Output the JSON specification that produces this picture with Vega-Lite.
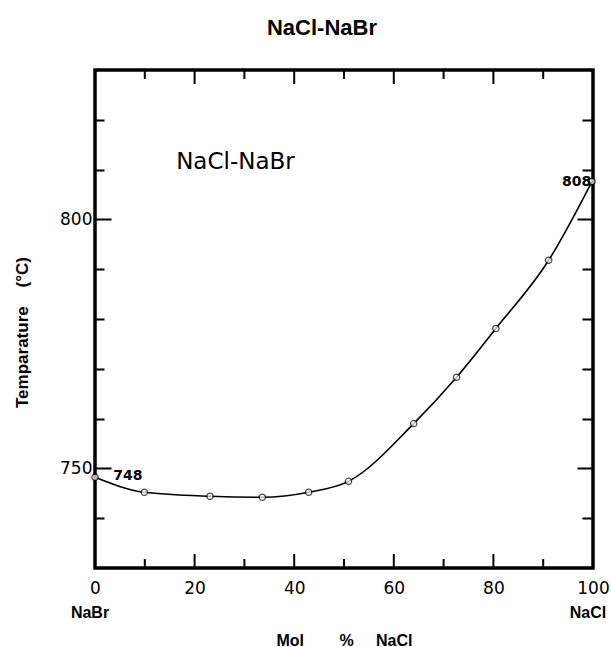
{
  "$schema": "https://vega.github.io/schema/vega-lite/v6.json",
  "width": 498,
  "height": 498,
  "autosize": {"type": "none"},
  "padding": {"left": 95, "top": 70, "right": 18, "bottom": 79},
  "background": "white",
  "title": {"text": "NaCl-NaBr", "font": "Liberation Sans", "fontSize": 22, "fontWeight": "bold", "anchor": "middle", "frame": "group", "dx": -22, "offset": 12, "baseline": "alphabetic", "color": "black"},
  "config": {
    "view": {"stroke": "black", "strokeWidth": 3.5},
    "axis": {"grid": false, "domain": false, "tickColor": "black", "tickWidth": 2, "labelColor": "black", "titleColor": "black"}
  },
  "datasets": {
    "pts": [
      {"x": 0, "y": 748.2},
      {"x": 9.9, "y": 745.2},
      {"x": 23.1, "y": 744.4},
      {"x": 33.6, "y": 744.2},
      {"x": 42.9, "y": 745.2},
      {"x": 50.9, "y": 747.4},
      {"x": 64.0, "y": 759.0},
      {"x": 72.6, "y": 768.3},
      {"x": 80.5, "y": 778.1},
      {"x": 91.1, "y": 791.8},
      {"x": 99.8, "y": 807.6}
    ],
    "ann": [
      {"x": 6.6, "y": 748.4, "label": "748"},
      {"x": 96.7, "y": 807.5, "label": "808"}
    ],
    "inner": [
      {"x": 28.2, "y": 810.2, "label": "NaCl-NaBr"}
    ],
    "ends": [
      {"x": -1, "y": 720, "label": "NaBr"},
      {"x": 99, "y": 720, "label": "NaCl"}
    ],
    "xmajor": [{"x": 20}, {"x": 40}, {"x": 60}, {"x": 80}],
    "xminor": [{"x": 10}, {"x": 30}, {"x": 50}, {"x": 70}, {"x": 90}]
  },
  "resolve": {"axis": {"x": "independent", "y": "independent"}},
  "layer": [
    {
      "data": {"name": "pts"},
      "mark": {"type": "line", "interpolate": "monotone", "color": "black", "strokeWidth": 1.6},
      "encoding": {
        "x": {"field": "x", "type": "quantitative", "scale": {"domain": [0, 100], "nice": false, "zero": false},
          "axis": {"orient": "bottom", "values": [0, 20, 40, 60, 80, 100], "ticks": false, "labelFlush": false, "labelFont": "DejaVu Sans", "labelFontSize": 17, "labelPadding": 12,
            "title": "Mol\u00a0\u00a0\u00a0\u00a0\u00a0\u00a0\u00a0\u00a0%\u00a0\u00a0\u00a0\u00a0\u00a0NaCl", "titleFont": "Liberation Sans", "titleFontSize": 16, "titleFontWeight": "bold", "titleY": 77, "titleBaseline": "alphabetic"}},
        "y": {"field": "y", "type": "quantitative", "scale": {"domain": [730, 830], "nice": false, "zero": false},
          "axis": {"orient": "left", "values": [750, 800], "ticks": false, "labelFont": "DejaVu Sans", "labelFontSize": 17, "labelPadding": 3,
            "title": "Temparature\u00a0\u00a0\u00a0\u00a0(°C)", "titleFont": "Liberation Sans", "titleFontSize": 17, "titleFontWeight": "bold", "titleAngle": -90, "titleX": -73, "titleY": 262, "titleAlign": "center", "titleBaseline": "middle"}}
      }
    },
    {
      "data": {"name": "pts"},
      "mark": {"type": "point", "shape": "circle", "filled": true, "fill": "white", "stroke": "black", "strokeWidth": 1.3, "size": 40},
      "encoding": {
        "x": {"field": "x", "type": "quantitative", "axis": null},
        "y": {"field": "y", "type": "quantitative", "axis": {"orient": "left", "values": [750, 800], "tickSize": -16, "labels": false, "title": null}}
      }
    },
    {
      "data": {"name": "ann"},
      "mark": {"type": "text", "font": "DejaVu Sans", "fontSize": 14, "fontWeight": "bold", "align": "center", "baseline": "middle", "color": "black"},
      "encoding": {
        "x": {"field": "x", "type": "quantitative", "axis": null},
        "y": {"field": "y", "type": "quantitative", "axis": {"orient": "left", "values": [740, 760, 770, 780, 790, 810, 820], "tickSize": -9, "labels": false, "title": null}},
        "text": {"field": "label"}
      }
    },
    {
      "data": {"name": "inner"},
      "mark": {"type": "text", "font": "DejaVu Sans", "fontSize": 23, "align": "center", "baseline": "alphabetic", "color": "black"},
      "encoding": {
        "x": {"field": "x", "type": "quantitative", "axis": null},
        "y": {"field": "y", "type": "quantitative", "axis": {"orient": "right", "values": [750, 800], "tickSize": -16, "labels": false, "title": null}},
        "text": {"field": "label"}
      }
    },
    {
      "data": {"name": "ends"},
      "mark": {"type": "text", "font": "Liberation Sans", "fontSize": 16, "fontWeight": "bold", "align": "center", "baseline": "alphabetic", "color": "black"},
      "encoding": {
        "x": {"field": "x", "type": "quantitative", "axis": null},
        "y": {"field": "y", "type": "quantitative", "axis": {"orient": "right", "values": [740, 760, 770, 780, 790, 810, 820], "tickSize": -11, "labels": false, "title": null}},
        "text": {"field": "label"}
      }
    },
    {
      "data": {"name": "xmajor"},
      "mark": {"type": "rule", "color": "black", "strokeWidth": 2},
      "encoding": {
        "x": {"field": "x", "type": "quantitative", "axis": null},
        "y": {"datum": 730, "type": "quantitative", "axis": null},
        "y2": {"datum": 732.8}
      }
    },
    {
      "data": {"name": "xmajor"},
      "mark": {"type": "rule", "color": "black", "strokeWidth": 2},
      "encoding": {
        "x": {"field": "x", "type": "quantitative", "axis": null},
        "y": {"datum": 830, "type": "quantitative", "axis": null},
        "y2": {"datum": 827.2}
      }
    },
    {
      "data": {"name": "xminor"},
      "mark": {"type": "rule", "color": "black", "strokeWidth": 2},
      "encoding": {
        "x": {"field": "x", "type": "quantitative", "axis": null},
        "y": {"datum": 730, "type": "quantitative", "axis": null},
        "y2": {"datum": 731.8}
      }
    },
    {
      "data": {"name": "xminor"},
      "mark": {"type": "rule", "color": "black", "strokeWidth": 2},
      "encoding": {
        "x": {"field": "x", "type": "quantitative", "axis": null},
        "y": {"datum": 830, "type": "quantitative", "axis": null},
        "y2": {"datum": 828.2}
      }
    }
  ]
}
